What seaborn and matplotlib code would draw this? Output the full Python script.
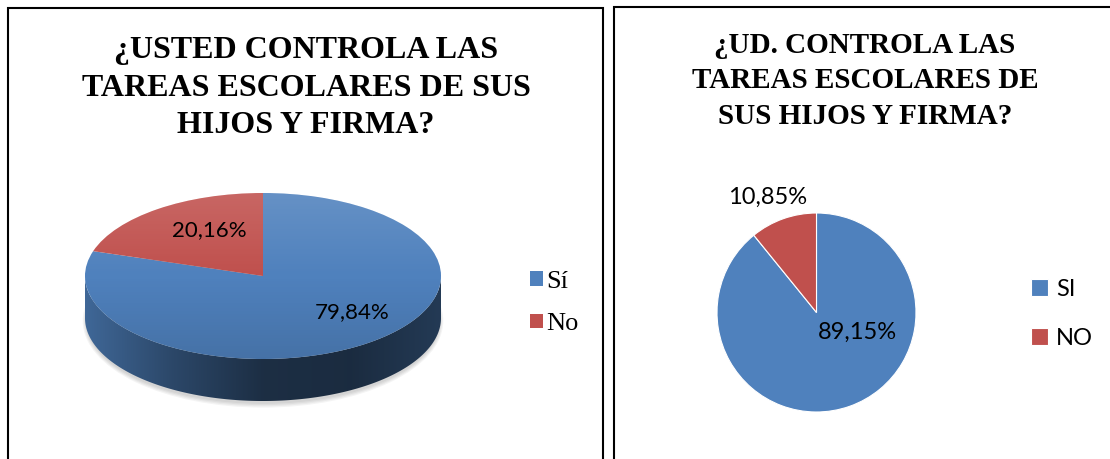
import numpy as np
import matplotlib
matplotlib.use("Agg")
import matplotlib.pyplot as plt
import seaborn as sns
from matplotlib.patches import Polygon, Rectangle, Ellipse, Circle
from matplotlib.colors import LinearSegmentedColormap, to_rgb
from matplotlib.font_manager import FontProperties

# ---------------- data ----------------
left_title = "¿USTED CONTROLA LAS\nTAREAS ESCOLARES DE SUS\nHIJOS Y FIRMA?"
left_labels = ["Sí", "No"]
left_values = [79.84, 20.16]

right_title = "¿UD. CONTROLA LAS\nTAREAS ESCOLARES DE\nSUS HIJOS Y FIRMA?"
right_labels = ["SI", "NO"]
right_values = [89.15, 10.85]

# ---------------- style ----------------
sns.set_theme(style="white")
palette = sns.color_palette(["#4F81BD", "#C0504D"])
plt.rcParams['font.family'] = ['Lato', 'DejaVu Sans']
plt.rcParams['text.color'] = 'black'

W, H = 1110, 459
fig = plt.figure(figsize=(W / 100, H / 100), dpi=100)
fig.patch.set_facecolor('white')


def px_axes(x0, y0, x1, y1):
    return fig.add_axes([x0 / W, 1 - y1 / H, (x1 - x0) / W, (y1 - y0) / H])


def fmt(v):
    return f"{v:.2f}".replace(".", ",") + "%"


# ---------------- panel borders ----------------
fig.add_artist(Rectangle((8 / W, -0.1), (603 - 8) / W, 1 - 8 / H + 0.1,
                         transform=fig.transFigure, fill=False,
                         edgecolor='black', lw=1.5))
fig.add_artist(Rectangle((614 / W, -0.1), (1300 - 614) / W, 1 - 7 / H + 0.1,
                         transform=fig.transFigure, fill=False,
                         edgecolor='black', lw=1.5))

# ---------------- left: 3D-like pie ----------------
ax0_box = (60, 170, 470, 430)
cx, cy, rx, ry = 263, 276, 178, 83
depth = 42 / ry
axL = px_axes(*ax0_box)
wedges, _ = axL.pie(left_values, colors=palette, startangle=90,
                    counterclock=False, radius=1,
                    wedgeprops=dict(linewidth=0, zorder=3))
axL.set_aspect('auto')

# soft shadow under the pie
for k in range(4):
    axL.add_patch(Ellipse((0, -depth - 0.035), 1.99 + 0.012 * k, 2.0 + 0.03 * k,
                          facecolor='black', edgecolor='none',
                          alpha=0.045, zorder=1))

# side walls of the visible (front) part of each wedge
for w, col in zip(wedges, palette):
    t = np.linspace(w.theta1, w.theta2, 1441)
    front = np.sin(np.radians(t)) <= 1e-9
    idx = np.where(front)[0]
    if len(idx) < 2:
        continue
    runs = np.split(idx, np.where(np.diff(idx) > 1)[0] + 1)
    base = np.array(to_rgb(col))
    cmap = LinearSegmentedColormap.from_list(
        "side", [base * 0.80, base * 0.55, base * 0.36, base * 0.34, base * 0.45])
    for r in runs:
        if len(r) < 2:
            continue
        tt = np.radians(t[r])
        top = np.column_stack([np.cos(tt), np.sin(tt)])
        bot = np.column_stack([np.cos(tt), np.sin(tt) - depth])[::-1]
        poly = Polygon(np.vstack([top, bot]), closed=True,
                       transform=axL.transData)
        im = axL.imshow(np.linspace(0, 1, 256)[None, :], cmap=cmap,
                        extent=(-1, 1, -1 - depth, 0.05), aspect='auto',
                        zorder=2, interpolation='bilinear')
        im.set_clip_path(poly)

# top face shading
g = np.linspace(0, 1, 200)[:, None]
ov = np.zeros((200, 2, 4))
ov[..., :3] = np.where(g[..., None] < 0.5, 1.0, 0.0)
ov[..., 3] = np.where(g < 0.5, 0.13 * (1 - 2 * g), 0.12 * (2 * g - 1))
imt = axL.imshow(ov, extent=(-1, 1, -1, 1), aspect='auto', zorder=4,
                 interpolation='bilinear')
imt.set_clip_path(Circle((0, 0), 1, transform=axL.transData))

left_label_pos = [(0.50, -0.43), (-0.30, 0.55)]
for v, (lx, ly) in zip(left_values, left_label_pos):
    axL.text(lx, ly, fmt(v), ha='center', va='center', fontsize=16,
             color='black', zorder=6)

x0, y0, x1, y1 = ax0_box
axL.set_xlim((x0 - cx) / rx, (x1 - cx) / rx)
axL.set_ylim((cy - y1) / ry, (cy - y0) / ry)
axL.axis('off')

axL.legend(wedges, left_labels, loc='center left',
           bbox_to_anchor=(530 / W, 1 - 303 / H), bbox_transform=fig.transFigure,
           frameon=False, borderpad=0, borderaxespad=0,
           prop=FontProperties(family='Liberation Serif', size=19),
           handlelength=0.48, handleheight=0.48, handletextpad=0.12,
           labelspacing=0.78, labelcolor='black')

fig.text(306 / W, 1 - 88 / H, left_title, ha='center', va='center',
         fontproperties=FontProperties(family='Liberation Serif',
                                       weight='bold', size=23),
         linespacing=1.4, color='black')

# ---------------- right: flat pie ----------------
ax1_box = (690, 170, 950, 440)
cx2, cy2, r2 = 816.5, 312.5, 99.5
axR = px_axes(*ax1_box)
wedgesR, _ = axR.pie(right_values, colors=palette, startangle=90,
                     counterclock=False, radius=1,
                     wedgeprops=dict(linewidth=0.8, edgecolor='white'))
axR.set_aspect('auto')
right_label_pos = [(0.41, -0.20), (-0.49, 1.16)]
for v, (lx, ly) in zip(right_values, right_label_pos):
    axR.text(lx, ly, fmt(v), ha='center', va='center', fontsize=17,
             color='black')
x0, y0, x1, y1 = ax1_box
axR.set_xlim((x0 - cx2) / r2, (x1 - cx2) / r2)
axR.set_ylim((cy2 - y1) / r2, (cy2 - y0) / r2)
axR.axis('off')

axR.legend(wedgesR, right_labels, loc='center left',
           bbox_to_anchor=(1031 / W, 1 - 314 / H), bbox_transform=fig.transFigure,
           frameon=False, borderpad=0, borderaxespad=0,
           prop=dict(size=17), handlelength=0.72, handleheight=0.72,
           handletextpad=0.35, labelspacing=1.2, labelcolor='black')

fig.text(865 / W, 1 - 81 / H, right_title, ha='center', va='center',
         fontproperties=FontProperties(family='Liberation Serif',
                                       weight='bold', size=21),
         linespacing=1.4, color='black')

fig.savefig("out.png", dpi=100, facecolor='white')
